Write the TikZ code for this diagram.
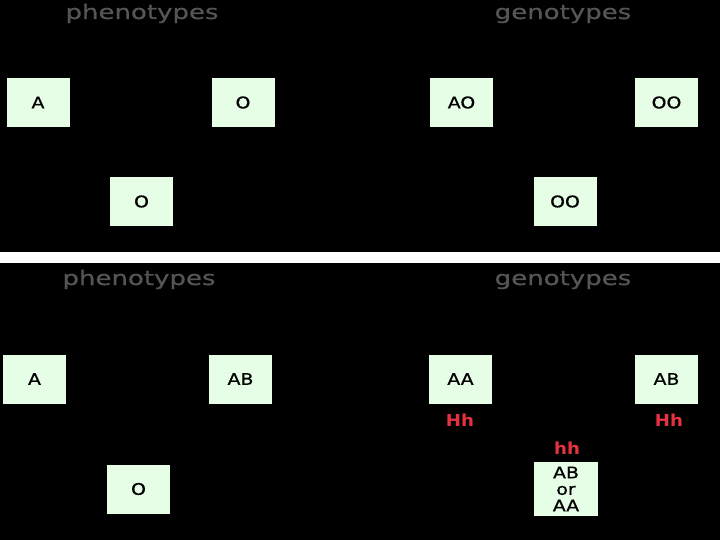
\documentclass[tikz,border=0pt]{standalone}
\usepackage{fontspec}
\newfontfamily\tfont[FakeStretch=1.3,FakeBold=0.6]{DejaVu Sans}
\newfontfamily\lfont[FakeStretch=1.18,FakeBold=0.8]{DejaVu Sans}
\newfontfamily\hfont[FakeStretch=1.1]{DejaVu Sans Bold}
\definecolor{boxgreen}{RGB}{230,253,230}
\definecolor{titlegray}{RGB}{85,85,85}
\definecolor{hred}{RGB}{228,50,65}
\tikzset{
  gbox/.style={rectangle, fill=boxgreen, draw=none, inner sep=0pt, outer sep=0pt,
    minimum width=63pt, minimum height=49pt, font=\lfont\fontsize{16}{17}\selectfont, text=black, align=center},
  ttl/.style={font=\tfont\fontsize{20}{24}\selectfont, text=titlegray, inner sep=0pt, anchor=base},
  hlab/.style={font=\hfont\fontsize{16.5}{18}\selectfont, text=hred, inner sep=0pt}
}
\begin{document}
\begin{tikzpicture}[x=1pt,y=-1pt]
\fill[black] (0,0) rectangle (720,540);
\useasboundingbox (0,0) rectangle (720,540);
\fill[white] (0,252) rectangle (720,263);
% top panel
\node[ttl] (t1) at (142,19) {phenotypes};
\node[ttl] (t2) at (563,19) {genotypes};
\node[gbox] (pA) at (38,102.5) {A};
\node[gbox] (pO1) at (243,102.5) {O};
\node[gbox] (pO2) at (141.5,201.5) {O};
\node[gbox] (gAO) at (461.5,102.5) {AO};
\node[gbox] (gOO1) at (666.5,102.5) {OO};
\node[gbox] (gOO2) at (565,201.5) {OO};
% bottom panel
\node[ttl] (t3) at (139,285) {phenotypes};
\node[ttl] (t4) at (563,285) {genotypes};
\node[gbox] (qA) at (34.5,379) {A};
\node[gbox] (qAB) at (240.5,379) {AB};
\node[gbox] (qO) at (138.5,489) {O};
\node[gbox] (hAA) at (460.5,379) {AA};
\node[gbox] (hAB) at (666.5,379) {AB};
\node[gbox, minimum width=64pt, minimum height=54pt, font=\lfont\fontsize{16}{16.5}\selectfont] (hmix) at (566,489) {AB\\or\\AA};
\node[hlab] (h1) at (460,420) {Hh};
\node[hlab] (h2) at (669,420) {Hh};
\node[hlab] (h3) at (567,448) {hh};
\end{tikzpicture}
\end{document}
